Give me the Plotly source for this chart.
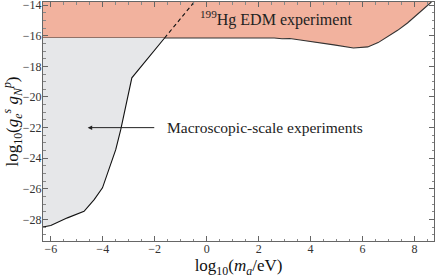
import plotly.graph_objects as go

# Macroscopic-scale experiments boundary (log10 ma, log10 g)
macro_x = [-6.3, -6.26, -6.0, -5.36, -4.72, -4.33, -4.01, -3.76, -3.5, -3.31, -2.88, -1.62]
macro_y = [-28.47, -28.47, -28.39, -27.89, -27.46, -26.7, -25.93, -24.74, -23.44, -22.15, -18.75, -16.15]

# Extrapolated (dashed) continuation
dash_x = [-1.62, -0.48]
dash_y = [-16.15, -13.8]

# 199Hg EDM lower boundary
hg_x = [-6.3, 2.6, 2.9, 3.2, 3.6, 4.2, 4.9, 5.65, 6.2, 6.6, 6.96, 7.35, 7.73, 8.2, 8.65]
hg_y = [-16.15, -16.15, -16.2, -16.18, -16.28, -16.45, -16.6, -16.8, -16.73, -16.45, -16.08, -15.65, -15.17, -14.5, -13.8]

x_range = [-6.3, 8.75]
y_range = [-29.4, -13.8]
serif = "Liberation Serif"

fig = go.Figure()

# Hg EDM filled region
fig.add_trace(go.Scatter(
    x=hg_x + [hg_x[-1], hg_x[0]],
    y=hg_y + [y_range[1], y_range[1]],
    fill="toself", fillcolor="#f2b29e", mode="none", hoverinfo="skip"))
fig.add_trace(go.Scatter(x=hg_x, y=hg_y, mode="lines",
                         line=dict(color="#333333", width=1.1), hoverinfo="skip"))

# Macroscopic region fill
fig.add_trace(go.Scatter(
    x=[macro_x[0]] + macro_x + [macro_x[0]],
    y=[-16.15] + macro_y + [-16.15],
    fill="toself", fillcolor="#e6e7e9", mode="none", hoverinfo="skip"))
fig.add_trace(go.Scatter(x=macro_x, y=macro_y, mode="lines",
                         line=dict(color="#111111", width=1.1), hoverinfo="skip"))
fig.add_trace(go.Scatter(x=dash_x, y=dash_y, mode="lines",
                         line=dict(color="#111111", width=1.1, dash="4px,3px"), hoverinfo="skip"))

axis_common = dict(
    showgrid=False, zeroline=False, showline=True, linecolor="#666666", linewidth=1,
    mirror="allticks", ticks="inside", ticklen=5, tickcolor="#666666",
    tickfont=dict(family=serif, size=12, color="#333333"),
    minor=dict(ticks="inside", ticklen=2.5, tickcolor="#888888", dtick=0.5),
    automargin=False, ticklabeloverflow="allow",
)

fig.update_xaxes(range=x_range, dtick=2, tick0=0, ticklabelstandoff=-3, **axis_common,
                 title=dict(text="log<sub>10</sub>(<i>m</i><sub><i>a</i></sub>/eV)",
                            font=dict(family=serif, size=17, color="#111111"), standoff=0))
fig.update_yaxes(range=y_range, dtick=2, tick0=0, ticklabelstandoff=-2, **axis_common,
                 title=dict(text="log<sub>10</sub>(<i>g</i><sub><i>e</i></sub><sup><i>s</i></sup> <i>g</i><sub><i>N</i></sub><sup><i>p</i></sup>)",
                            font=dict(family=serif, size=17, color="#111111"), standoff=0))

fig.add_annotation(x=-0.35, y=-14.85, xref="x", yref="y", xanchor="left", yanchor="middle",
                   text="<sup>199</sup>Hg EDM experiment", showarrow=False,
                   font=dict(family=serif, size=16, color="#222222"))
fig.add_annotation(x=-1.6, y=-22.0, xref="x", yref="y", xanchor="left", yanchor="middle",
                   text="Macroscopic-scale experiments", showarrow=False,
                   font=dict(family=serif, size=15.5, color="#222222"))
fig.add_annotation(x=-4.58, y=-22.0, ax=-1.96, ay=-22.0, xref="x", yref="y",
                   axref="x", ayref="y", text="", showarrow=True,
                   arrowhead=2, arrowsize=0.9, arrowwidth=1, arrowcolor="#222222")

fig.update_layout(
    width=436, height=280, showlegend=False,
    font=dict(family=serif),
    margin=dict(l=43, r=2, t=2, b=39),
    plot_bgcolor="white", paper_bgcolor="white",
)

fig.write_html("out.html", config={"displayModeBar": False},
               post_script="document.body.style.margin='0';")
